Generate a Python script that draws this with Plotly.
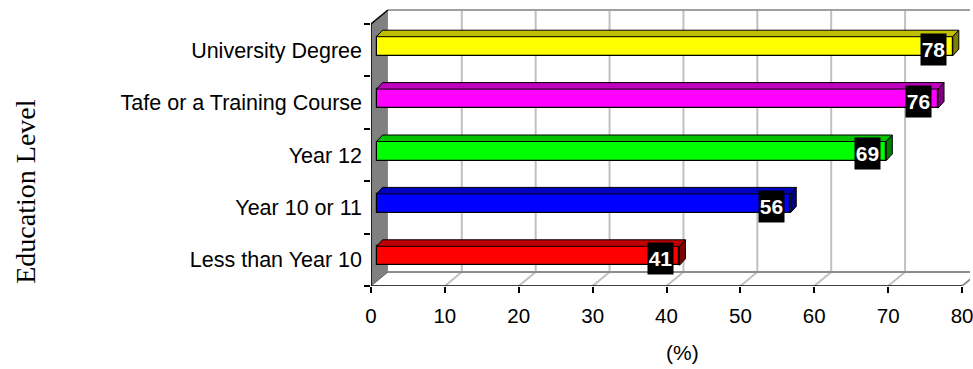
import plotly.graph_objects as go

# ---------------- data ----------------
categories = ["Less than Year 10", "Year 10 or 11", "Year 12",
              "Tafe or a Training Course", "University Degree"]
values = [41, 56, 69, 76, 78]
x_ticks = [0, 10, 20, 30, 40, 50, 60, 70, 80]
front_colors = ["#FF0000", "#0000FF", "#00FF00", "#FF00FF", "#FFFF00"]
top_colors = ["#C00000", "#0000C0", "#00C000", "#C000C0", "#C0C000"]
side_colors = ["#800000", "#000080", "#008000", "#800080", "#808000"]
x_title = "(%)"
y_title = "Education Level"

# ---------------- geometry (pixels -> data units) ----------------
W, H = 973, 369
ML, MB = 371, 83
PX_X = 7.425            # pixels per x unit
PX_Y = 52.4             # pixels per category
plot_w = W - ML
plot_h = H - MB
XMAX = plot_w / PX_X
YMIN = -0.5
YMAX = YMIN + plot_h / PX_Y
AX_MAX = x_ticks[-1]

WDX, WDY = 17 / PX_X, 14 / PX_Y        # wall depth
BFX, BFY = 5.6 / PX_X, 4 / PX_Y        # bar front offset
BDX, BDY = 6 / PX_X, 6.5 / PX_Y        # bar depth
BAR_H = 19 / PX_Y

n = len(categories)
pos = list(range(n))
y_lo, y_hi = -0.5, n - 0.5

FONT = "Liberation Sans, Arial, sans-serif"
GRID = "#C0C0C0"

shapes = []
def poly(pts, fill, line_color=None, lw=0, layer="below"):
    d = "M " + " L ".join(f"{x},{y}" for x, y in pts) + " Z"
    shapes.append(dict(type="path", path=d, xref="x", yref="y",
                       fillcolor=fill, line=dict(color=line_color or fill, width=lw),
                       layer=layer))
def line(x0, y0, x1, y1, color, lw):
    shapes.append(dict(type="line", xref="x", yref="y", x0=x0, y0=y0, x1=x1, y1=y1,
                       line=dict(color=color, width=lw), layer="below"))

# back wall
poly([(WDX, y_lo + WDY), (AX_MAX + WDX, y_lo + WDY), (AX_MAX + WDX, y_hi + WDY), (WDX, y_hi + WDY)], "white")
for v in x_ticks[1:]:
    line(v + WDX, y_lo + WDY, v + WDX, y_hi + WDY, GRID, 2)
    line(v, y_lo, v + WDX, y_lo + WDY, GRID, 2)
line(WDX, y_hi + WDY, AX_MAX + WDX, y_hi + WDY, "#A0A0A0", 2)
line(WDX, y_lo + WDY, AX_MAX + WDX, y_lo + WDY, "#8C8C8C", 2)
line(AX_MAX, y_lo, AX_MAX + WDX, y_lo + WDY, "#8C8C8C", 1.5)
# left wall
poly([(0, y_lo), (0, y_hi), (WDX, y_hi + WDY), (WDX, y_lo + WDY)], "#808080")
line(0, y_lo, WDX, y_lo + WDY, "#606060", 1)
line(0, y_hi, WDX, y_hi + WDY, "black", 1.5)
line(0, y_lo, 0, y_hi, "black", 1.5)
line(0, y_lo, AX_MAX, y_lo, "black", 1.5)

# bar top and side faces
for i, v in enumerate(values):
    yb = i + BFY - BAR_H / 2
    yt = i + BFY + BAR_H / 2
    x0, x1 = BFX, v + BFX
    poly([(x0, yt), (x1, yt), (x1 + BDX, yt + BDY), (x0 + BDX, yt + BDY)],
         top_colors[i], "black", 1, layer="above")
    poly([(x1, yb), (x1, yt), (x1 + BDX, yt + BDY), (x1 + BDX, yb + BDY)],
         side_colors[i], "black", 1, layer="above")

fig = go.Figure()
fig.add_trace(go.Bar(
    x=values, y=pos, base=BFX, orientation="h",
    width=BAR_H, offset=-BAR_H / 2 + BFY,
    marker=dict(color=front_colors, line=dict(color="black", width=1.2)),
    hoverinfo="skip", showlegend=False))
# invisible trace for secondary y-axis (boundary ticks)
fig.add_trace(go.Scatter(x=[None], y=[None], yaxis="y2", showlegend=False, hoverinfo="skip"))

annotations = []
for i, v in enumerate(values):
    annotations.append(dict(
        x=v, y=i + 0.02, xref="x", yref="y", xanchor="right", yanchor="middle",
        text=str(v), showarrow=False, bgcolor="black", width=25, height=31,
        borderpad=0, font=dict(family=FONT, size=21, color="white", weight="bold")))
annotations.append(dict(
    x=(684 - ML) / plot_w, y=(plot_h - 353) / plot_h, xref="paper", yref="paper",
    text=x_title, showarrow=False, xanchor="center", yanchor="middle",
    font=dict(family=FONT, size=21, color="black")))
annotations.append(dict(
    x=(23 - ML) / plot_w, y=(plot_h - 192) / plot_h, xref="paper", yref="paper",
    text=y_title, showarrow=False, xanchor="center", yanchor="middle", textangle=-90,
    font=dict(family="Liberation Serif, Times New Roman, serif", size=28, color="black")))

fig.update_layout(
    width=W, height=H,
    margin=dict(l=ML, r=0, t=0, b=MB, pad=0),
    paper_bgcolor="white", plot_bgcolor="white",
    shapes=shapes, annotations=annotations,
    bargap=0,
    xaxis=dict(range=[0, XMAX], tickvals=x_ticks, ticks="outside", ticklen=6,
               tickwidth=1.5, tickcolor="black", showgrid=False, zeroline=False,
               showline=False, ticklabeloverflow="allow", ticklabelstandoff=5,
               tickfont=dict(family=FONT, size=20.5, color="black")),
    yaxis=dict(range=[YMIN, YMAX], tickvals=pos, ticktext=categories, ticks="",
               showgrid=False, zeroline=False, showline=False,
               ticklabelstandoff=8,
               tickfont=dict(family=FONT, size=21.5, color="black")),
    yaxis2=dict(range=[YMIN, YMAX], overlaying="y", side="left",
                tickvals=[p - 0.5 for p in pos] + [n - 0.5], ticks="outside",
                ticklen=6, tickwidth=1.5, tickcolor="black", showticklabels=False,
                showgrid=False, zeroline=False, showline=False),
)

fig.write_html("out.html")
